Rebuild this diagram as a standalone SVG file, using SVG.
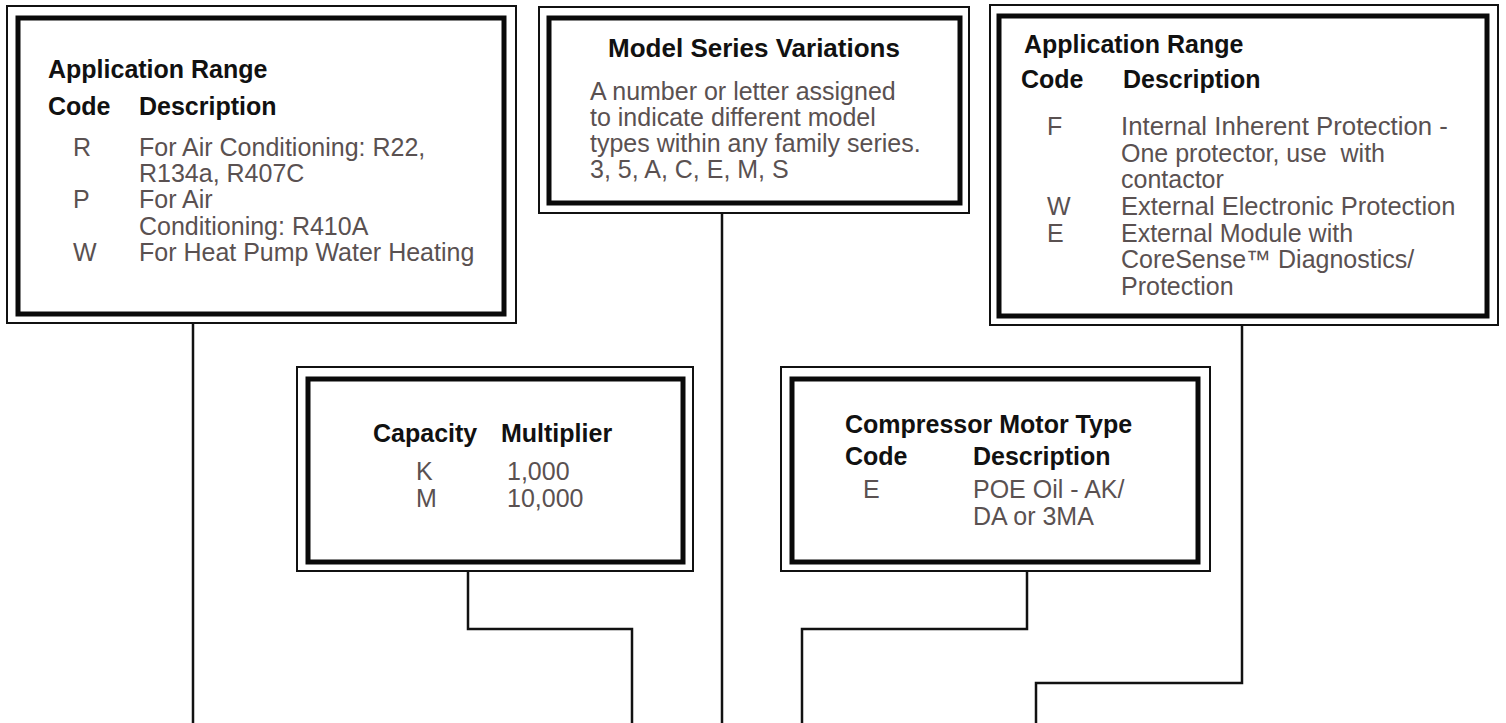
<svg xmlns="http://www.w3.org/2000/svg" width="1506" height="723" viewBox="0 0 1506 723">
  <style>
    .outer { fill: none; stroke: #111; stroke-width: 2; }
    .inner { fill: #fff; stroke: #0a0a0a; stroke-width: 5; }
    .h { font-family: "Liberation Sans", Arial, sans-serif; font-weight: bold; font-size: 25px; fill: #111; }
    .t { font-family: "Liberation Sans", Arial, sans-serif; font-size: 25px; fill: #5a5151; }
    .conn { fill: none; stroke: #111; stroke-width: 2.5; }
  </style>
  <rect x="0" y="0" width="1506" height="723" fill="#fff"/>

  <g id="connectors">
    <path class="conn" d="M193 323 V723"/>
    <path class="conn" d="M722 213 V723"/>
    <path class="conn" d="M468 571 V629 H632 V723"/>
    <path class="conn" d="M1027 571 V629 H802 V723"/>
    <path class="conn" d="M1242 325 V683 H1036 V723"/>
  </g>

  <g id="application-range-left">
    <rect class="outer" x="7" y="6" width="509" height="317"/>
    <rect class="inner" x="18" y="18" width="486" height="296"/>
    <text class="h" x="48" y="78">Application Range</text>
    <text class="h" x="48" y="115">Code</text>
    <text class="h" x="139" y="115">Description</text>
    <text class="t" x="73" y="156">R</text>
    <text class="t" x="139" y="156">For Air Conditioning: R22,</text>
    <text class="t" x="139" y="182">R134a, R407C</text>
    <text class="t" x="73" y="208">P</text>
    <text class="t" x="139" y="208">For Air</text>
    <text class="t" x="139" y="235">Conditioning: R410A</text>
    <text class="t" x="73" y="261">W</text>
    <text class="t" x="139" y="261">For Heat Pump Water Heating</text>
  </g>

  <g id="model-series">
    <rect class="outer" x="539" y="7" width="430" height="206"/>
    <rect class="inner" x="549" y="18" width="411" height="185"/>
    <text class="h" x="754" y="57" text-anchor="middle" style="font-size:26px">Model Series Variations</text>
    <text class="t" x="590" y="100">A number or letter assigned</text>
    <text class="t" x="590" y="126">to indicate different model</text>
    <text class="t" x="590" y="152">types within any family series.</text>
    <text class="t" x="590" y="178">3, 5, A, C, E, M, S</text>
  </g>

  <g id="application-range-right">
    <rect class="outer" x="990" y="5" width="508" height="320"/>
    <rect class="inner" x="999" y="16" width="488" height="300"/>
    <text class="h" x="1024" y="53">Application Range</text>
    <text class="h" x="1021" y="88">Code</text>
    <text class="h" x="1123" y="88">Description</text>
    <text class="t" x="1047" y="135">F</text>
    <text class="t" x="1121" y="135" style="font-size:25.8px">Internal Inherent Protection -</text>
    <text class="t" x="1121" y="162" style="white-space:pre">One protector, use  with</text>
    <text class="t" x="1121" y="188">contactor</text>
    <text class="t" x="1047" y="215">W</text>
    <text class="t" x="1121" y="215" style="font-size:25.5px">External Electronic Protection</text>
    <text class="t" x="1047" y="242">E</text>
    <text class="t" x="1121" y="242">External Module with</text>
    <text class="t" x="1121" y="268">CoreSense™ Diagnostics/</text>
    <text class="t" x="1121" y="295">Protection</text>
  </g>

  <g id="capacity-multiplier">
    <rect class="outer" x="297" y="367" width="396" height="204"/>
    <rect class="inner" x="308" y="379" width="375" height="183"/>
    <text class="h" x="373" y="442">Capacity</text>
    <text class="h" x="501" y="442">Multiplier</text>
    <text class="t" x="416" y="480">K</text>
    <text class="t" x="507" y="480">1,000</text>
    <text class="t" x="416" y="507">M</text>
    <text class="t" x="507" y="507">10,000</text>
  </g>

  <g id="compressor-motor-type">
    <rect class="outer" x="781" y="367" width="429" height="204"/>
    <rect class="inner" x="792" y="379" width="406" height="183"/>
    <text class="h" x="845" y="433">Compressor Motor Type</text>
    <text class="h" x="845" y="465">Code</text>
    <text class="h" x="973" y="465">Description</text>
    <text class="t" x="863" y="498">E</text>
    <text class="t" x="973" y="498">POE Oil - AK/</text>
    <text class="t" x="973" y="525">DA or 3MA</text>
  </g>
</svg>
